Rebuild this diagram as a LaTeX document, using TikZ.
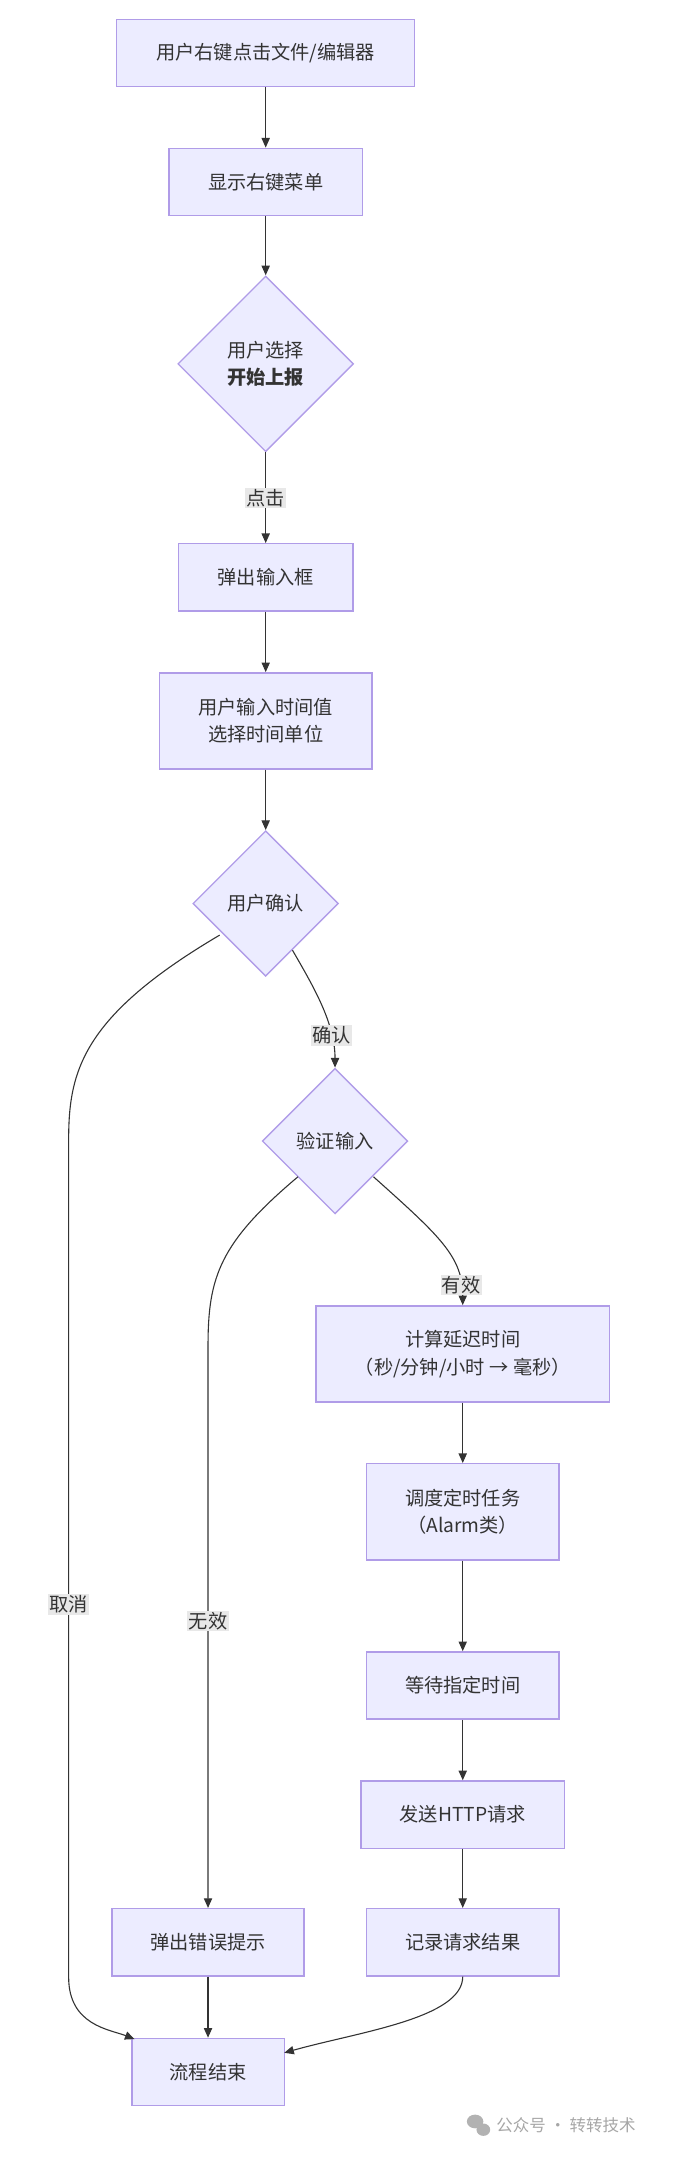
\documentclass[tikz,border=0pt]{standalone}
\usepackage{fontspec}
\setmainfont{Noto Sans CJK SC}
\usetikzlibrary{shapes.geometric,arrows.meta}
\definecolor{nfill}{HTML}{ECECFF}
\definecolor{nline}{HTML}{B09CE8}
\definecolor{eline}{HTML}{333333}
\definecolor{lbg}{HTML}{E8E8E8}
\begin{document}
\begin{tikzpicture}[x=1pt,y=-1pt,
  font=\fontsize{14}{20}\selectfont, text=eline,
  box/.style={draw=nline,fill=nfill,line width=1pt,minimum height=49pt,align=center,inner sep=0pt},
  dia/.style={draw=nline,fill=nfill,line width=1pt,diamond,aspect=1,inner sep=0pt,align=center},
  arr/.style={draw=eline,line width=0.8pt,-{Triangle[length=7pt,width=6pt]}},
  lab/.style={fill=lbg,inner sep=1pt,font=\fontsize{14}{16}\selectfont}]
\useasboundingbox (0,0) rectangle (490,1584);
\node[box,minimum width=217pt] (A) at (193.5,38.5) {用户右键点击文件/编辑器};
\node[box,minimum width=141pt] (B) at (193.5,132.5) {显示右键菜单};
\node[dia,minimum width=128pt,minimum height=128pt] (C) at (193.5,265) {用户选择\\\textbf{开始上报}};
\node[box,minimum width=127pt] (D) at (193.5,420.5) {弹出输入框};
\node[box,minimum width=155pt,minimum height=70pt] (E) at (193.5,525) {用户输入时间值\\选择时间单位};
\node[dia,minimum width=106pt,minimum height=106pt] (F) at (193.5,658) {用户确认};
\node[dia,minimum width=106pt,minimum height=106pt] (G) at (244,831) {验证输入};
\node[box,minimum width=214pt,minimum height=70pt] (H) at (337,986) {计算延迟时间\\（秒/分钟/小时 → 毫秒）};
\node[box,minimum width=140pt,minimum height=70pt] (I) at (337,1101) {调度定时任务\\（Alarm类）};
\node[box,minimum width=140pt] (J) at (337,1227.5) {等待指定时间};
\node[box,minimum width=148pt] (K) at (337,1321.5) {发送HTTP请求};
\node[box,minimum width=140pt] (L) at (337,1414.5) {记录请求结果};
\node[box,minimum width=140pt] (M) at (151.5,1414.5) {弹出错误提示};
\node[box,minimum width=111pt] (N) at (151.5,1509) {流程结束};
\draw[arr] (A) -- (B);
\draw[arr] (B) -- (C);
\draw[arr] (C) -- node[lab] {点击} (D);
\draw[arr] (D) -- (E);
\draw[arr] (E) -- (F);
\coordinate (f1) at (213,692);
\draw[arr] (f1) .. controls (228,718) and (244,745) .. node[lab,pos=0.75] {确认} (G.north);
\coordinate (f2) at (160,681);
\draw[arr] (f2) .. controls (60,740) and (50,780) .. (50,830) -- node[lab,pos=0.555] {取消} (50,1440) .. controls (50,1475) and (80,1478) .. (98,1485);
\coordinate (g1) at (217,857);
\draw[arr] (g1) .. controls (160,905) and (151.5,930) .. (151.5,980) -- node[lab,pos=0.49] {无效} (M.north);
\coordinate (g2) at (272,857);
\draw[arr] (g2) .. controls (320,900) and (337,915) .. node[lab,pos=0.85] {有效} (H.north);
\draw[arr] (H) -- (I);
\draw[arr] (I) -- (J);
\draw[arr] (J) -- (K);
\draw[arr] (K) -- (L);
\draw[arr] (M) -- (N);
\draw[arr] (L.south) .. controls (337,1470) and (260,1480) .. (207,1495);
\node[text=gray!70,font=\fontsize{12}{14}\selectfont,anchor=west] (W) at (358,1548) {公众号 · 转转技术};
\fill[gray!60] (346,1545) ellipse (6pt and 5pt);
\fill[gray!60] (352,1551) ellipse (5pt and 4.5pt);
\end{tikzpicture}
\end{document}
